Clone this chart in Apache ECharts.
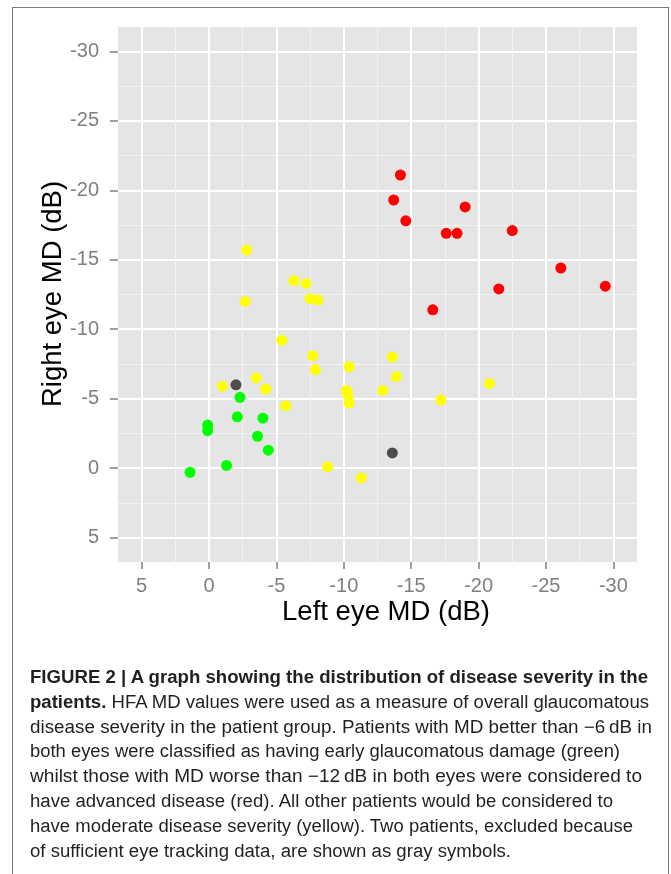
<!DOCTYPE html>
<html>
<head>
<meta charset="utf-8">
<script src="https://cdn.jsdelivr.net/npm/echarts@6/dist/echarts.min.js"></script>
<style>
html,body{margin:0;padding:0;background:#fff;}
#wrap{position:relative;width:671px;height:874px;overflow:hidden;background:#fff;}
#chart{position:absolute;left:0;top:0;width:671px;height:874px;}
#frame{position:absolute;left:12px;top:7px;width:657px;height:900px;border:1.5px solid #7a7a7a;box-sizing:border-box;pointer-events:none;}
#caption{position:absolute;left:30px;top:665px;font-family:'Liberation Sans',Arial,Helvetica,sans-serif;font-size:18px;line-height:24.8px;color:#231f20;white-space:nowrap;}
#caption b{font-weight:bold;}
#caption .ln{height:24.8px;}
#caption .ln span{display:inline-block;transform-origin:0 50%;}
</style>
</head>
<body>
<div id="wrap">
  <div id="chart"></div>
  <div id="frame"></div>
  <div id="caption">
    <div class="ln"><span data-end="648"><b>FIGURE 2 | A graph showing the distribution of disease severity in the</b></span></div>
    <div class="ln"><span data-end="649"><b>patients.</b> HFA MD values were used as a measure of overall glaucomatous</span></div>
    <div class="ln"><span data-end="652">disease severity in the patient group. Patients with MD better than −6&#8201;dB in</span></div>
    <div class="ln"><span data-end="620">both eyes were classified as having early glaucomatous damage (green)</span></div>
    <div class="ln"><span data-end="642">whilst those with MD worse than −12&#8201;dB in both eyes were considered to</span></div>
    <div class="ln"><span data-end="613">have advanced disease (red). All other patients would be considered to</span></div>
    <div class="ln"><span data-end="633">have moderate disease severity (yellow). Two patients, excluded because</span></div>
    <div class="ln"><span data-end="511">of sufficient eye tracking data, are shown as gray symbols.</span></div>
  </div>
</div>
<script>
// ---- data: [left eye MD, right eye MD] in dB ----
const advancedRed = [[-14.2,-21.1],[-13.7,-19.3],[-19.0,-18.8],[-14.6,-17.8],[-17.6,-16.9],[-18.4,-16.9],[-22.5,-17.1],[-26.1,-14.4],[-21.5,-12.9],[-29.4,-13.1],[-16.6,-11.4]];
const moderateYellow = [[-2.8,-15.7],[-6.3,-13.5],[-7.2,-13.3],[-2.7,-12.0],[-7.5,-12.2],[-8.1,-12.1],[-5.4,-9.2],[-7.7,-8.1],[-13.6,-8.0],[-7.9,-7.1],[-10.4,-7.3],[-13.9,-6.6],[-3.5,-6.5],[-1.0,-5.9],[-4.2,-5.7],[-10.2,-5.6],[-10.3,-5.3],[-12.9,-5.6],[-20.8,-6.1],[-17.2,-4.9],[-10.4,-4.7],[-5.7,-4.5],[-8.8,-0.1],[-11.3,0.7]];
const earlyGreen = [[-2.3,-5.1],[-2.1,-3.7],[-4.0,-3.6],[0.1,-3.1],[0.1,-2.7],[-3.6,-2.3],[-4.4,-1.3],[-1.3,-0.2],[1.4,0.3]];
const excludedGray = [[-2.0,-6.0],[-13.6,-1.1]];
const xTicks = [5,0,-5,-10,-15,-20,-25,-30];
const yTicks = [5,0,-5,-10,-15,-20,-25,-30];
const xTitle = 'Left eye MD (dB)';
const yTitle = 'Right eye MD (dB)';

const chart = echarts.init(document.getElementById('chart'), null, {renderer:'canvas'});
const tickFont = 'Liberation Sans, Arial, Helvetica, sans-serif';
function axisCfg(ticks, margin, len){
  return {
    type:'value', min:-31.75, max:6.75, inverse:true, splitNumber:8,
    axisLine:{show:false, onZero:false},
    axisTick:{show:true, length:len, customValues:ticks, lineStyle:{color:'#7f7f7f', width:1.5}},
    axisLabel:{customValues:ticks, color:'#7f7f7f', fontSize:20, fontFamily:tickFont, margin:margin},
    splitLine:{show:true, lineStyle:{color:'#ffffff', width:2}},
    minorTick:{show:false, splitNumber:2},
    minorSplitLine:{show:true, lineStyle:{color:'#F3F3F3', width:1}}
  };
}
function sc(name, data, color){
  return {type:'scatter', name:name, data:data, symbol:'circle', symbolSize:11,
    itemStyle:{color:color, opacity:1}, emphasis:{disabled:true}};
}
chart.setOption({
  animation:false,
  grid:{left:118, top:27, width:519, height:535, show:true, backgroundColor:'#E5E5E5', borderWidth:0, containLabel:false},
  xAxis:axisCfg(xTicks, 14, 7),
  yAxis:axisCfg(yTicks, 19, 8),
  series:[
    sc('advanced', advancedRed, '#FF0000'),
    sc('moderate', moderateYellow, '#FFFF00'),
    sc('early', earlyGreen, '#00FF00'),
    sc('excluded', excludedGray, '#4D4D4D')
  ],
  graphic:[
    {type:'text', x:386, y:612, style:{text:xTitle, font:'27.5px Liberation Sans, Arial, sans-serif', fill:'#000', align:'center', verticalAlign:'middle', textAlign:'center', textVerticalAlign:'middle'}},
    {type:'text', x:53, y:294, rotation:Math.PI/2, style:{text:yTitle, font:'27.5px Liberation Sans, Arial, sans-serif', fill:'#000', align:'center', verticalAlign:'middle', textAlign:'center', textVerticalAlign:'middle'}}
  ]
});

function fitCaption(){
  const left = 30;
  document.querySelectorAll('#caption .ln span').forEach(function(sp){
    const w = sp.getBoundingClientRect().width;
    const end = parseFloat(sp.getAttribute('data-end'));
    if (w > 0 && end > left) sp.style.transform = 'scaleX(' + ((end - left) / w) + ')';
  });
}
fitCaption();
</script>
</body>
</html>
